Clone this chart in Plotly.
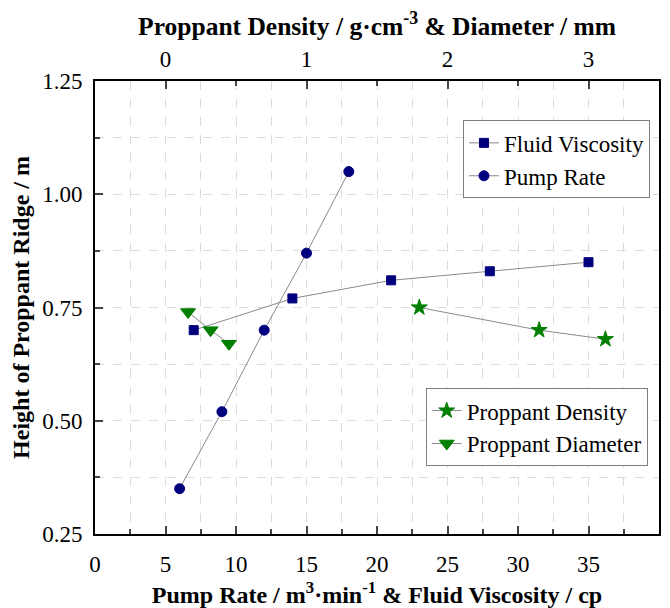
import plotly.graph_objects as go

# Data (bottom axis: pump rate m3/min & viscosity cp; top axis: density g/cm3 & diameter mm)
pump_rate_x = [6, 9, 12, 15, 18]
pump_rate_y = [0.35, 0.52, 0.70, 0.87, 1.05]
viscosity_x = [7, 14, 21, 28, 35]
viscosity_y = [0.70, 0.77, 0.81, 0.83, 0.85]
density_x = [1.8, 2.65, 3.12]
density_y = [0.75, 0.70, 0.68]
diameter_x = [0.16, 0.32, 0.45]
diameter_y = [0.74, 0.70, 0.67]

NAVY = "#00007F"
GREEN = "#007F00"
LINE = "#8a8a8a"
FONT = "Liberation Serif, Times New Roman, Times, serif"

fig = go.Figure()
fig.add_trace(go.Scatter(x=viscosity_x, y=viscosity_y, name="Fluid Viscosity", mode="lines+markers",
                         line=dict(color=LINE, width=1),
                         marker=dict(symbol="square", size=9, color=NAVY, line=dict(color=NAVY, width=1)),
                         legend="legend"))
fig.add_trace(go.Scatter(x=pump_rate_x, y=pump_rate_y, name="Pump Rate", mode="lines+markers",
                         line=dict(color=LINE, width=1),
                         marker=dict(symbol="circle", size=10, color=NAVY, line=dict(color=NAVY, width=1)),
                         legend="legend"))
fig.add_trace(go.Scatter(x=density_x, y=density_y, name="Proppant Density", mode="lines+markers",
                         xaxis="x2", line=dict(color=LINE, width=1),
                         marker=dict(symbol="star", size=12, color=GREEN, line=dict(color=GREEN, width=1)),
                         legend="legend2"))
fig.add_trace(go.Scatter(x=diameter_x, y=diameter_y, name="Proppant Diameter", mode="lines+markers",
                         xaxis="x2", line=dict(color=LINE, width=1),
                         marker=dict(symbol="triangle-down", size=13, color=GREEN, line=dict(color=GREEN, width=1)),
                         legend="legend2"))

grid = dict(showgrid=True, gridcolor="#dcdcdc", griddash="dash", gridwidth=1)

# page body has an 8px margin, so the figure is drawn 8px right/down; size compensates
fig.update_layout(
    width=662, height=600,
    margin=dict(l=87, r=11, t=73, b=74),
    paper_bgcolor="white", plot_bgcolor="white",
    font=dict(family=FONT, size=23, color="black"),
    xaxis=dict(range=[0, 40], dtick=5, tick0=0, ticks="inside", ticklen=8, tickwidth=1.5,
               showline=True, linecolor="black", linewidth=2, mirror=False, zeroline=False,
               ticklabelstandoff=8, automargin=False,
               minor=dict(dtick=2.5, ticks="inside", ticklen=5, tickwidth=1.5, showgrid=True,
                          gridcolor="#dcdcdc", griddash="dash"),
               title=dict(text="<b>Pump Rate / m<sup>3</sup>·min<sup>-1</sup> & Fluid Viscosity / cp</b>",
                          font=dict(size=24), standoff=16),
               **grid),
    xaxis2=dict(range=[-0.5, 3.5], dtick=1, tick0=0, overlaying="x", side="top", anchor="y",
                ticks="inside", ticklen=8, tickwidth=1.5, showline=True, linecolor="black", linewidth=2,
                showgrid=False, zeroline=False, ticklabelstandoff=3, automargin=False,
                minor=dict(dtick=0.5, ticks="inside", ticklen=5, tickwidth=1.5, showgrid=False),
                title=dict(text="<b>Proppant Density / g·cm<sup>-3</sup> & Diameter / mm</b>",
                           font=dict(size=25.5), standoff=10)),
    yaxis=dict(range=[0.25, 1.25], dtick=0.25, tick0=0.25, tickformat=".2f", ticks="inside",
               ticklen=8, tickwidth=1.5, showline=True, linecolor="black", linewidth=2, mirror=True,
               zeroline=False, ticklabelstandoff=6, automargin=False,
               minor=dict(dtick=0.125, ticks="inside", ticklen=5, tickwidth=1.5, showgrid=True,
                          gridcolor="#dcdcdc", griddash="dash"),
               title=dict(text="<b>Height of Proppant Ridge / m</b>", font=dict(size=24), standoff=7),
               **grid),
    legend=dict(x=0.984, y=0.913, xanchor="right", yanchor="top", bgcolor="white",
                bordercolor="#7f7f7f", borderwidth=1, font=dict(size=23), tracegroupgap=0,
                itemwidth=30),
    legend2=dict(x=0.98, y=0.322, xanchor="right", yanchor="top", bgcolor="white",
                 bordercolor="#7f7f7f", borderwidth=1, font=dict(size=23), tracegroupgap=0,
                 itemwidth=30),
)

fig.write_html("out.html")
